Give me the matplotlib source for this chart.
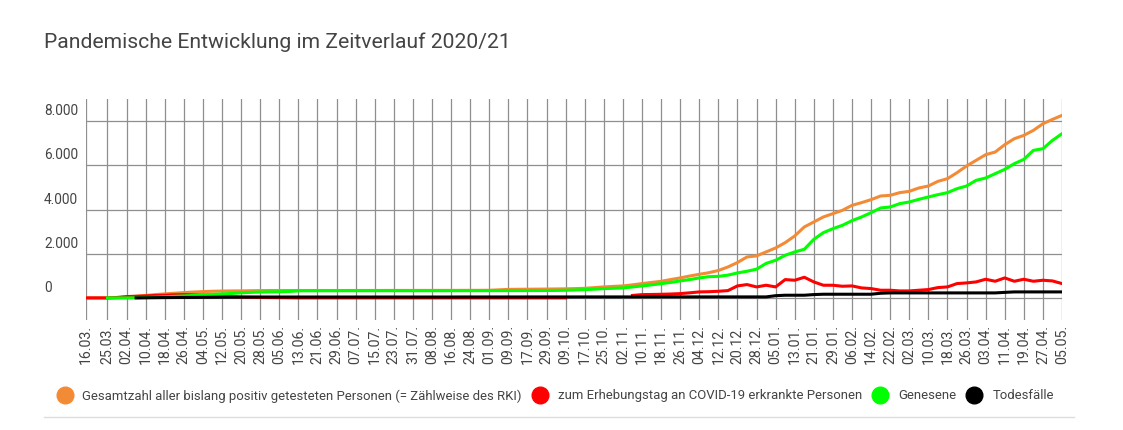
import numpy as np
import matplotlib
matplotlib.use("Agg")
import matplotlib.pyplot as plt
from matplotlib.lines import Line2D
from matplotlib import transforms

plt.rcParams['font.family'] = ['Roboto', 'DejaVu Sans']

date_labels = ['16.03.', '25.03.', '02.04.', '10.04.', '18.04.', '26.04.', '04.05.', '12.05.',
               '20.05.', '28.05.', '05.06.', '13.06.', '21.06.', '29.06.', '07.07.', '15.07.',
               '23.07.', '31.07.', '08.08.', '16.08.', '24.08.', '01.09.', '09.09.', '17.09.',
               '29.09.', '09.10.', '17.10.', '25.10.', '02.11.', '10.11.', '18.11.', '26.11.',
               '04.12.', '12.12.', '20.12.', '28.12.', '05.01.', '13.01.', '21.01.', '29.01.',
               '06.02.', '14.02.', '22.02.', '02.03.', '10.03.', '18.03.', '26.03.', '03.04.',
               '11.04.', '19.04.', '27.04.', '05.05.']

# values read at each labelled date and half way between two labels
total = [0, 0, 0, 5, 40, 70, 110, 150, 180, 210, 240, 265, 285, 300, 310, 315, 318, 325,
         330, 335, 335, 335, 335, 335, 335, 335, 335, 335, 336, 336, 337, 337, 338, 338,
         338, 339, 339, 340, 340, 341, 342, 343, 345, 365, 385, 390, 393, 396, 400, 405,
         410, 420, 434, 465, 497, 520, 542, 590, 646, 700, 750, 830, 904, 990, 1067, 1140,
         1240, 1400, 1600, 1853, 1900, 2080, 2260, 2501, 2803, 3210, 3436, 3662, 3813, 3963,
         4189, 4310, 4446, 4611, 4642, 4762, 4822, 4973, 5063, 5274, 5395, 5666, 5968, 6224,
         6480, 6601, 6932, 7203, 7354, 7580, 7882, 8077, 8258]

active = [0, 0, 0, 20, 60, 75, 90, 110, 120, 140, 150, 140, 130, 110, 90, 60, 40, 30,
          20, 15, 10, 5, 0, 0, 0, 0, 0, 0, 0, 0, 0, 0, 0, 0,
          0, 0, 0, 0, 0, 0, 0, 0, 0, 0, 0, 0, 0, 0, 0, 0,
          0, np.nan, np.nan, np.nan, np.nan, np.nan, np.nan, 110, 149, 155, 163, 175, 194, 230, 271, 280,
          300, 330, 543, 603, 497, 573, 497, 829, 799, 934, 723, 573, 573, 527,
          543, 452, 422, 347, 347, 316, 316, 347, 377, 467, 497, 648, 678, 723,
          844, 753, 904, 753, 844, 753, 799, 768, 648]

recovered = [np.nan, np.nan, 0, 0, 0, 5, 15, 30, 50, 70, 90, 110, 140, 160, 180, 200, 230, 250,
             265, 275, 280, 290, 320, 322, 323, 324, 324, 325, 325, 325, 325, 325, 325, 325,
             325, 325, 325, 325, 326, 326, 327, 327, 328, 329, 330, 330, 332, 333, 335, 338,
             345, 360, 375, 395, 420, 435, 452, 495, 542, 590, 646, 700, 768, 830, 904, 960,
             975, 1030, 1130, 1206, 1300, 1560, 1703, 1929, 2080, 2200, 2652, 2954, 3134, 3285,
             3496, 3662, 3858, 4069, 4114, 4265, 4340, 4461, 4566, 4672, 4762, 4943, 5063, 5320,
             5425, 5621, 5817, 6073, 6269, 6676, 6751, 7128, 7430]

deaths = [np.nan, np.nan, np.nan, np.nan, np.nan, 0, 5, 10, 15, 18, 20, 22, 25, 28, 30, 32, 35, 38,
          40, 40, 40, 40, 40, 40, 40, 40, 40, 40, 40, 40, 40, 40, 40, 40,
          40, 40, 40, 40, 40, 42, 42, 42, 42, 42, 42, 42, 43, 43, 43, 43,
          43, 43, 44, 44, 44, 44, 44, 44, 44, 44, 45, 45, 45, 45, 45, 45,
          45, 45, 45, 45, 45, 45, 100, 121, 121, 121, 150, 166, 166, 166,
          166, 166, 166, 210, 226, 226, 226, 226, 226, 226, 226, 226, 226, 226,
          226, 226, 250, 271, 271, 271, 271, 271, 271]

series_names = ['Gesamtzahl aller bislang positiv getesteten Personen (= Zählweise des RKI)',
                'zum Erhebungstag an COVID-19 erkrankte Personen', 'Genesene', 'Todesfälle']
series_colors = ['#f38b36', '#ff0000', '#00ff00', '#000000']
y_ticks = [0, 2000, 4000, 6000, 8000]

# category positions: first label gap is 9 days, then 8 days
tick_pos = [0] + [9 + 8 * k for k in range(len(date_labels) - 1)]
x = []
for a, b in zip(tick_pos[:-1], tick_pos[1:]):
    x += [a, (a + b) / 2]
x.append(tick_pos[-1])
x = np.array(x)

W, H = 1123, 431
fig = plt.figure(figsize=(W / 100, H / 100), dpi=100)
ax = fig.add_axes([86 / W, 1 - 321 / H, (1062 - 86) / W, (321 - 100) / H])

for vals, col in zip([total, active, recovered, deaths], series_colors):
    ax.plot(x, vals, color=col, lw=2.2, solid_joinstyle='round', zorder=3)

ax.set_xlim(0, tick_pos[-1])
ax.set_ylim(-1000, 9000)
ax.set_xticks(tick_pos)
ax.set_xticklabels(date_labels, rotation=90, fontsize=10.2, color='#444444')
ax.set_yticks(y_ticks)
ax.set_yticklabels([])
ax.tick_params(length=0, pad=3)
ax.grid(True, color='#8f8f8f', lw=0.9)
ax.set_axisbelow(True)
for s in ax.spines.values():
    s.set_visible(False)

# y labels sit above their grid line, left aligned
trans = transforms.blended_transform_factory(fig.transFigure, ax.transData)
trans = transforms.offset_copy(trans, fig=fig, y=4, units='dots')
for v in y_ticks:
    ax.text(44 / W, v, f'{v:,}'.replace(',', '.'), transform=trans, ha='left', va='bottom',
            fontsize=9.8, color='#444444')

fig.text(44 / W, 1 - 48 / H, 'Pandemische Entwicklung im Zeitverlauf 2020/21',
         fontsize=15.2, color='#444444', va='baseline')

# legend row
renderer = fig.canvas.get_renderer()
cx = 64.5
ly = 1 - 396 / H
for name, col in zip(series_names, series_colors):
    fig.add_artist(Line2D([cx / W], [ly], marker='o', markersize=12, color=col,
                          linestyle='none', transform=fig.transFigure))
    t = fig.text((cx + 18) / W, ly, name, fontsize=9.45, color='#444444', va='center')
    bb = t.get_window_extent(renderer)
    cx = bb.x1 + 18

fig.add_artist(Line2D([44 / W, 1074 / W], [1 - 418 / H] * 2, color='#dddddd', lw=1,
                      transform=fig.transFigure))

fig.savefig('out.png', dpi=100)
